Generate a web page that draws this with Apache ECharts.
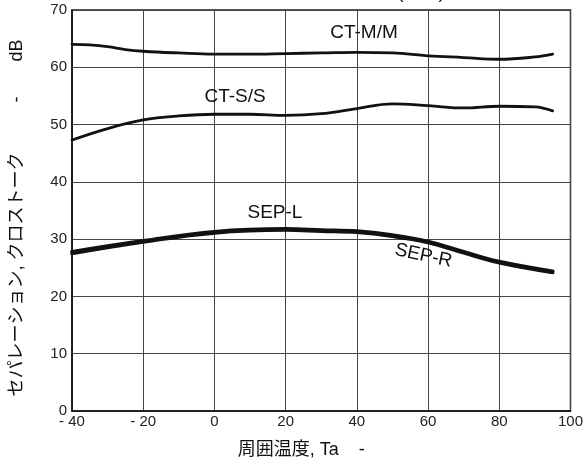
<!DOCTYPE html>
<html><head><meta charset="utf-8">
<script src="https://cdn.jsdelivr.net/npm/echarts@6/dist/echarts.min.js"></script>
<style>html,body{margin:0;padding:0;background:#fff}#c{width:586px;height:464px}</style>
</head><body><div id="c"></div>
<script>
const ctmmX = [-40,-35,-30,-25,-20,-10,0,10,20,30,40,50,60,70,80,90,95];
const ctmmY = [64.0,63.9,63.6,63.1,62.8,62.5,62.3,62.3,62.4,62.5,62.6,62.5,62.0,61.7,61.4,61.8,62.3];
const ctssX = [-40,-30,-20,-10,0,10,20,30,40,50,60,70,80,90,95];
const ctssY = [47.3,49.3,50.8,51.5,51.8,51.8,51.6,51.9,52.8,53.6,53.3,52.9,53.2,53.1,52.4];
const sepLX = [-40,-20,0,20,30,40,50,60,70,80,95];
const sepLY = [27.8,29.7,31.3,31.8,31.6,31.4,30.7,29.6,27.8,26.1,24.4];
const sepRX = [-40,-20,0,20,30,40,50,60,70,80,95];
const sepRY = [27.5,29.5,31.1,31.6,31.4,31.2,30.5,29.4,27.6,25.9,24.2];
const xTicks = [-40,-20,0,20,40,60,80,100];
const yTicks = [0,10,20,30,40,50,60,70];
const curveLabels = [
  {text:'CT-M/M', x:42, y:66.0, rot:0},
  {text:'CT-S/S', x:5.8, y:54.9, rot:0},
  {text:'SEP-L', x:17, y:34.6, rot:0},
  {text:'SEP-R', x:58.7, y:27.1, rot:-12}
];
const FONT = "'Liberation Sans', Arial, 'Noto Sans CJK JP', sans-serif";
const zip = (a,b)=>a.map((v,i)=>[v,b[i]]);
const chart = echarts.init(document.getElementById('c'), null, {renderer:'canvas'});
const lineS = (name, xs, ys, w) => ({
  name, type:'line', smooth:0.4, symbol:'none', data: zip(xs,ys),
  lineStyle:{color:'#111', width:w, cap:'round'}, z:5
});
chart.setOption({
  animation:false,
  backgroundColor:'#fff',
  grid:{left:72, right:14, top:10, bottom:46, show:true, borderColor:'#222', borderWidth:1.5},
  xAxis:{type:'value', min:xTicks[0], max:xTicks[xTicks.length-1], interval:20,
    axisLine:{show:true, onZero:false, lineStyle:{color:'#111', width:1.5}},
    axisTick:{show:false},
    splitLine:{show:true, lineStyle:{color:'#444', width:1}},
    axisLabel:{color:'#222', fontSize:15, fontFamily:FONT, margin:3,
      formatter:v=> v<0 ? '- ' + Math.abs(v) : String(v)},
    name:'周囲温度, Ta    -        ', nameLocation:'middle', nameGap:30,
    nameTextStyle:{color:'#111', fontSize:18, fontFamily:FONT}
  },
  yAxis:{type:'value', min:yTicks[0], max:yTicks[yTicks.length-1], interval:10,
    axisLine:{show:true, onZero:false, lineStyle:{color:'#111', width:1.5}},
    axisTick:{show:false},
    splitLine:{show:true, lineStyle:{color:'#444', width:1}},
    axisLabel:{color:'#222', fontSize:15, fontFamily:FONT, margin:5},
    name:'セパレーション, クロストーク          -       dB   ', nameLocation:'middle', nameGap:46,
    nameTextStyle:{color:'#111', fontSize:18, fontFamily:FONT}
  },
  series:[
    lineS('CT-M/M', ctmmX, ctmmY, 2.8),
    lineS('CT-S/S', ctssX, ctssY, 2.8),
    lineS('SEP-L', sepLX, sepLY, 3.6),
    lineS('SEP-R', sepRX, sepRY, 3.6)
  ]
});
const g = curveLabels.map(l => {
  const p = chart.convertToPixel({gridIndex:0}, [l.x, l.y]);
  return {type:'text', x:p[0], y:p[1], rotation: l.rot*Math.PI/180, z:10,
    style:{text:l.text, fill:'#111', font:'19px ' + FONT, align:'center', verticalAlign:'middle'}};
});
g.push({type:'text', x:421, y:2, z:10, style:{text:'(TYP)', fill:'#111', font:'18px ' + FONT, align:'center', verticalAlign:'bottom'}});
chart.setOption({graphic:g});
</script></body></html>
